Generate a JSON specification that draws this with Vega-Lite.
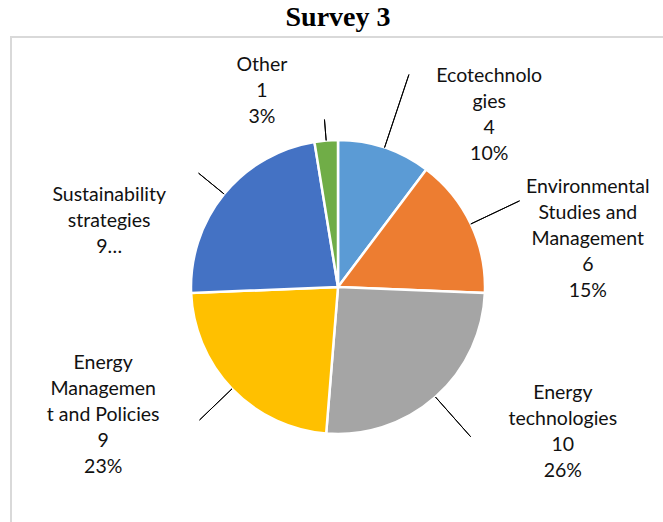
{
  "$schema": "https://vega.github.io/schema/vega-lite/v6.json",
  "autosize": "none",
  "padding": {"left": 11, "top": 37, "right": 0, "bottom": 0},
  "width": 654,
  "height": 500,
  "background": "white",
  "title": {"text": "Survey 3", "font": "Liberation Serif", "fontSize": 28, "fontWeight": "bold", "color": "#000000", "anchor": "middle", "offset": 4},
  "config": {"view": {"stroke": null}},
  "datasets": {
    "survey": [
      {"idx": 1, "cat": "Ecotechnologies", "value": 4, "label": "Ecotechnolo\ngies\n4\n10%"},
      {"idx": 2, "cat": "Environmental Studies and Management", "value": 6, "label": "Environmental\nStudies and\nManagement\n6\n15%"},
      {"idx": 3, "cat": "Energy technologies", "value": 10, "label": "Energy\ntechnologies\n10\n26%"},
      {"idx": 4, "cat": "Energy Management and Policies", "value": 9, "label": "Energy\nManagemen\nt and Policies\n9\n23%"},
      {"idx": 5, "cat": "Sustainability strategies", "value": 9, "label": "Sustainability\nstrategies\n9…"},
      {"idx": 6, "cat": "Other", "value": 1, "label": "Other\n1\n3%"}
    ],
    "frame": [{"name": "chart area"}]
  },
  "layer": [
    {
      "data": {"name": "frame"},
      "mark": {"type": "rect", "fill": "white", "stroke": "#D9D9D9", "strokeWidth": 2},
      "encoding": {}
    },
    {
      "data": {"name": "survey"},
      "mark": {"type": "arc", "outerRadius": 147, "stroke": "white", "strokeWidth": 2.5},
      "encoding": {
        "theta": {"field": "value", "type": "quantitative", "stack": true},
        "order": {"field": "idx", "type": "quantitative"},
        "color": {"field": "cat", "type": "nominal", "legend": null,
          "scale": {"domain": ["Ecotechnologies", "Environmental Studies and Management", "Energy technologies", "Energy Management and Policies", "Sustainability strategies", "Other"],
                    "range": ["#5B9BD5", "#ED7D31", "#A5A5A5", "#FFC000", "#4472C4", "#70AD47"]}}
      }
    },
    {
      "data": {"name": "survey"},
      "transform": [{"stack": "value", "groupby": [], "sort": [{"field": "idx", "order": "ascending"}], "as": ["v0", "v1"]}],
      "encoding": {
        "theta": {"field": "v0", "type": "quantitative", "stack": null},
        "theta2": {"field": "v1"}
      },
      "layer": [
        {"transform": [{"filter": "datum.cat === 'Ecotechnologies'"}],
         "mark": {"type": "arc", "padAngle": 3, "radius2": 147, "radius": 224, "stroke": "#000000", "strokeWidth": 1, "fillOpacity": 0}},
        {"transform": [{"filter": "datum.cat === 'Environmental Studies and Management'"}],
         "mark": {"type": "arc", "padAngle": 3, "radius2": 147, "radius": 201, "stroke": "#000000", "strokeWidth": 1, "fillOpacity": 0}},
        {"transform": [{"filter": "datum.cat === 'Energy technologies'"}],
         "mark": {"type": "arc", "padAngle": 3, "radius2": 147, "radius": 200, "stroke": "#000000", "strokeWidth": 1, "fillOpacity": 0}},
        {"transform": [{"filter": "datum.cat === 'Energy Management and Policies'"}],
         "mark": {"type": "arc", "padAngle": 3, "radius2": 147, "radius": 192, "stroke": "#000000", "strokeWidth": 1, "fillOpacity": 0}},
        {"transform": [{"filter": "datum.cat === 'Sustainability strategies'"}],
         "mark": {"type": "arc", "padAngle": 3, "radius2": 147, "radius": 180, "stroke": "#000000", "strokeWidth": 1, "fillOpacity": 0}},
        {"transform": [{"filter": "datum.cat === 'Other'"}],
         "mark": {"type": "arc", "padAngle": 3, "radius2": 147, "radius": 168, "stroke": "#000000", "strokeWidth": 1, "fillOpacity": 0}}
      ]
    },
    {
      "data": {"name": "survey"},
      "transform": [{"stack": "value", "groupby": [], "sort": [{"field": "idx", "order": "ascending"}], "as": ["v0", "v1"]}],
      "layer": [
        {"transform": [{"filter": "datum.cat === 'Ecotechnologies'"}],
         "mark": {"type": "text", "font": "Lato", "fontSize": 19.5, "lineHeight": 26, "lineBreak": "\n", "align": "center", "baseline": "middle", "color": "#111111", "radius": 260, "dx": -5, "dy": -3},
         "encoding": {"theta": {"field": "v1", "type": "quantitative", "stack": null}, "text": {"field": "label"}}},
        {"transform": [{"filter": "datum.cat === 'Environmental Studies and Management'"}],
         "mark": {"type": "text", "font": "Lato", "fontSize": 19.5, "lineHeight": 26, "lineBreak": "\n", "align": "center", "baseline": "middle", "color": "#111111", "radius": 247, "dx": 3, "dy": -110},
         "encoding": {"theta": {"field": "v1", "type": "quantitative", "stack": null}, "text": {"field": "label"}}},
        {"transform": [{"filter": "datum.cat === 'Energy technologies'"}],
         "mark": {"type": "text", "font": "Lato", "fontSize": 19.5, "lineHeight": 26, "lineBreak": "\n", "align": "center", "baseline": "middle", "color": "#111111", "radius": 230, "dx": -5, "dy": 97},
         "encoding": {"theta": {"field": "v0", "type": "quantitative", "stack": null}, "text": {"field": "label"}}},
        {"transform": [{"filter": "datum.cat === 'Energy Management and Policies'"}],
         "mark": {"type": "text", "font": "Lato", "fontSize": 19.5, "lineHeight": 26, "lineBreak": "\n", "align": "center", "baseline": "middle", "color": "#111111", "radius": 237, "dx": 2, "dy": 66},
         "encoding": {"theta": {"field": "v1", "type": "quantitative", "stack": null}, "text": {"field": "label"}}},
        {"transform": [{"filter": "datum.cat === 'Sustainability strategies'"}],
         "mark": {"type": "text", "font": "Lato", "fontSize": 19.5, "lineHeight": 26, "lineBreak": "\n", "align": "center", "baseline": "middle", "color": "#111111", "radius": 224, "dx": -5, "dy": -101},
         "encoding": {"theta": {"field": "v0", "type": "quantitative", "stack": null}, "text": {"field": "label"}}},
        {"transform": [{"filter": "datum.cat === 'Other'"}],
         "mark": {"type": "text", "font": "Lato", "fontSize": 19.5, "lineHeight": 26, "lineBreak": "\n", "align": "center", "baseline": "middle", "color": "#111111", "radius": 231, "dx": -39, "dy": 6},
         "encoding": {"theta": {"field": "v0", "type": "quantitative", "stack": null}, "text": {"field": "label"}}}
      ]
    }
  ]
}
